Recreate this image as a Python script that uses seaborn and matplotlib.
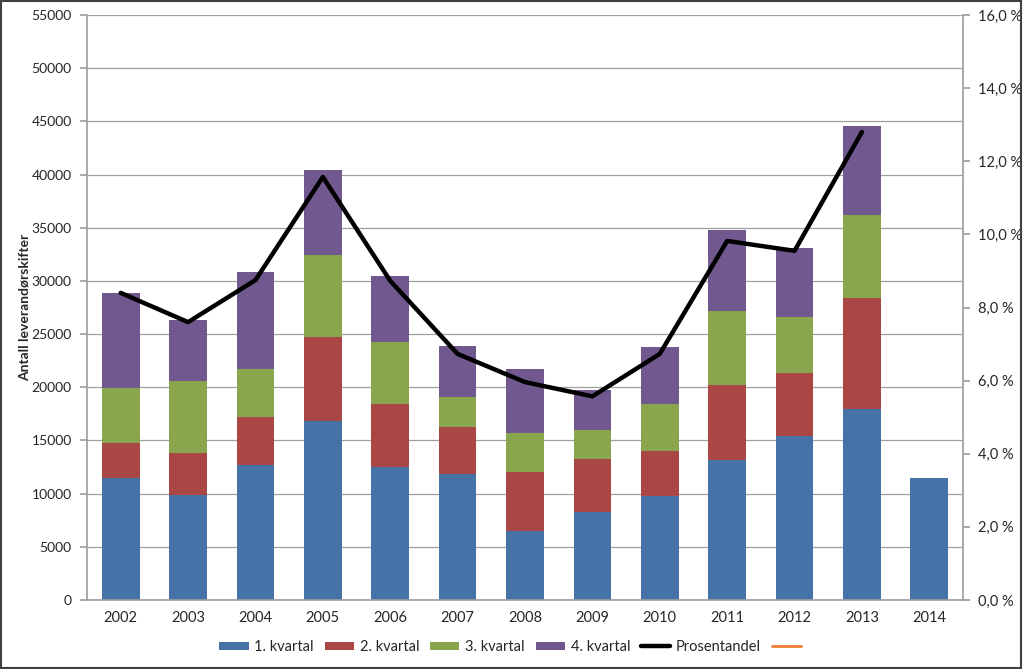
import numpy as np
import pandas as pd
import matplotlib
matplotlib.use("Agg")
import matplotlib.pyplot as plt
import seaborn as sns
from matplotlib.patches import Patch, Rectangle
from matplotlib.lines import Line2D
from matplotlib.ticker import FuncFormatter, MultipleLocator

years = ["2002", "2003", "2004", "2005", "2006", "2007", "2008", "2009", "2010", "2011", "2012", "2013", "2014"]
q1 = [11500, 9900, 12700, 16800, 12500, 11850, 6500, 8300, 9750, 13200, 15400, 17950, 11500]
q2 = [3250, 3900, 4500, 7900, 5900, 4400, 5550, 5000, 4300, 7000, 5950, 10450, 0]
q3 = [5150, 6800, 4500, 7700, 5850, 2850, 3650, 2700, 4400, 7000, 5250, 7800, 0]
q4 = [9000, 5700, 9100, 8000, 6200, 4800, 6000, 3750, 5350, 7600, 6500, 8350, 0]
pct_years = years[:12]
pct = [8.40, 7.60, 8.75, 11.57, 8.73, 6.73, 5.96, 5.57, 6.73, 9.82, 9.55, 12.80]

labels = ["1. kvartal", "2. kvartal", "3. kvartal", "4. kvartal"]
colors = ["#4572A7", "#AA4643", "#89A54E", "#71588F"]

sns.set_theme(style="white")
plt.rcParams['font.family'] = ['Lato', 'DejaVu Sans']
FS = 10.5

fig = plt.figure(figsize=(10.24, 6.69), dpi=100)
ax = fig.add_axes([87/1024, 69/669, (963-87)/1024, (600-15)/669])

series = [q1, q2, q3, q4]
cum = np.cumsum(np.array(series), axis=0)
df = pd.DataFrame({"year": years})
for i in range(3, -1, -1):
    df["c"] = cum[i]
    sns.barplot(data=df, x="year", y="c", color=colors[i], saturation=1,
                width=0.56, ax=ax, order=years)
for p in ax.patches:
    p.set_edgecolor("none")

ax.set_ylim(0, 55000)
ax.set_xlim(-0.5, 12.5)
ax.yaxis.set_major_locator(MultipleLocator(5000))
ax.grid(axis="y", color="#a0a0a0", linewidth=0.9)
ax.set_axisbelow(True)
ax.set_xlabel("")
ax.set_ylabel("Antall leverandørskifter", fontsize=10, fontweight="bold")
ax.yaxis.set_label_coords(-0.064, 0.5)
for s in ["top", "right"]:
    ax.spines[s].set_visible(False)
ax.spines["left"].set_color("#a0a0a0")
ax.spines["bottom"].set_color("#a0a0a0")
ax.tick_params(axis="y", labelsize=10, length=5, color="#a0a0a0", direction="out", left=True, pad=6)
ax.tick_params(axis="x", labelsize=FS, length=0, pad=8)

ax2 = ax.twinx()
ld = pd.DataFrame({"x": np.arange(len(pct_years)), "p": pct})
sns.lineplot(data=ld, x="x", y="p", color="black", linewidth=3.2, ax=ax2, legend=False)
ax2.set_ylim(0, 16)
ax2.set_xlim(-0.5, 12.5)
ax2.yaxis.set_major_locator(MultipleLocator(2))
ax2.yaxis.set_major_formatter(FuncFormatter(lambda v, _: f"{v:.1f} %".replace(".", ",")))
ax2.set_ylabel("")
for s in ["top", "left", "bottom"]:
    ax2.spines[s].set_visible(False)
ax2.spines["right"].set_color("#a0a0a0")
ax2.tick_params(axis="y", labelsize=FS, length=5, color="#a0a0a0", direction="out", right=True, pad=6)
ax2.grid(False)

handles = [Patch(facecolor=c, edgecolor="none") for c in colors]
handles += [Line2D([0], [0], color="black", linewidth=3.2),
            Line2D([0], [0], color="#ED7D31", linewidth=2)]
fig.legend(handles, labels + ["Prosentandel", " "], loc="center",
           bbox_to_anchor=(0.503, 0.033), ncol=6, frameon=False, fontsize=FS,
           handlelength=2.0, handleheight=0.5, handletextpad=0.4, columnspacing=0.75)

fig.patches.append(Rectangle((0.001, 0.002), 0.996, 0.996, transform=fig.transFigure,
                             fill=False, edgecolor="#404040", linewidth=1.5))
fig.savefig("out.png", dpi=100)
